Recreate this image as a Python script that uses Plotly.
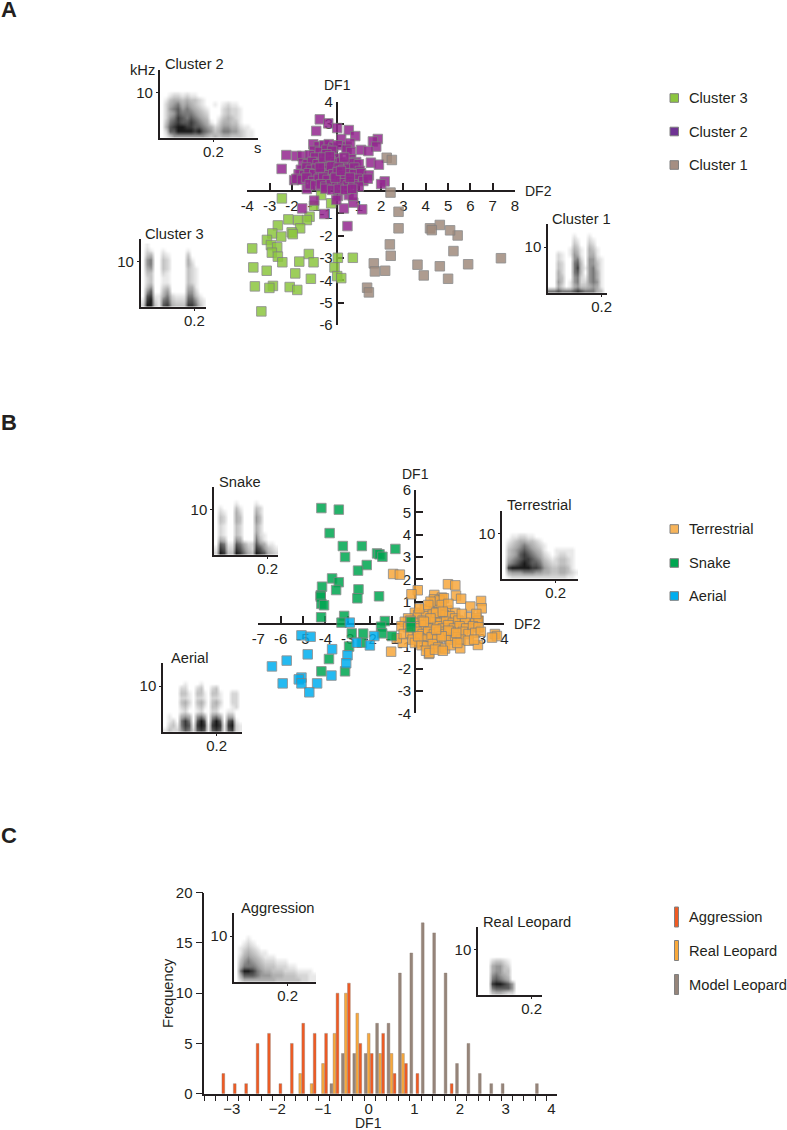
import plotly.graph_objects as go

WIDTH = 787
HEIGHT = 1130
FONT = "Liberation Sans"
INK = "#231f20"
EDGE = "#808080"

# panel A, (DF2, DF1)
CLUSTER3 = [(-2.45,-0.33),(-0.69,-0.18),(-1.01,-0.66),(-0.24,-0.55),(-1.21,-1.15),(-1.33,-1.30),(-1.72,-1.30),
            (-2.16,-1.27),(-2.63,-1.54),(-1.63,-1.67),(-2.01,-1.85),(-1.96,-1.93),(-2.88,-1.90),(-2.48,-2.04),
            (-3.12,-2.19),(-2.94,-2.42),(-2.66,-2.52),(-2.90,-2.76),(-2.63,-2.94),(-2.43,-3.19),(-3.78,-2.57),
            (-3.73,-3.42),(-3.13,-3.57),(-1.67,-3.16),(-1.24,-2.82),(-1.03,-3.19),(-1.85,-3.69),(-1.15,-3.93),
            (-2.85,-4.25),(-3.01,-4.34),(-3.66,-4.27),(-2.10,-4.30),(-1.76,-4.43),(-3.37,-5.39),(0.06,-2.99),
            (-0.09,-3.42),(0.03,-3.81),(0.21,-3.90),(0.73,-2.99)]
CLUSTER1 = [(2.25,1.49),(2.48,1.39),(2.42,-0.07),(2.78,-0.93),(2.78,-1.67),(2.39,-2.39),(2.43,-2.90),(1.67,-3.24),
            (1.72,-3.60),(2.18,-3.57),(1.37,-4.33),(1.45,-4.54),(3.63,-3.30),(3.91,-3.78),(4.63,-3.37),(5.0,-3.93),
            (5.90,-3.28),(7.37,-3.01),(5.24,-2.69),(5.43,-1.99),(5.09,-1.76),(4.63,-1.52),(4.19,-1.67),(4.27,-1.75)]
CLUSTER2 = [(-0.75,3.21),(-0.37,3.03),(0.03,2.82),(-0.91,2.69),(0.55,2.73),(0.84,2.46),(0.21,2.33),(-1.04,2.09),
            (0.46,1.99),(0.61,2.13),(1.85,2.33),(1.63,2.22),(1.78,1.99),(1.10,1.84),(1.43,1.79),(-2.25,1.61),
            (-2.46,0.99),(1.54,1.27),(1.90,1.18),(-1.90,0.49),(-1.33,0.09),(2.16,0.43),(2.0,0.31),(-1.0,-0.43),
            (-0.55,-1.03),(-1.54,-0.78),(0.33,-0.78),(1.15,-0.82),(0.75,-0.52),(0.49,-1.57),(0.07,-0.22),
            (-0.01,-0.40),(0.55,-0.18),(0.73,-0.22),
            (-0.8,2.0),(-0.55,2.05),(-0.35,2.1),(-0.15,1.95),(0.05,2.05),(-1.0,1.8),(-0.75,1.75),(-0.45,1.85),
            (-0.2,1.8),(0.45,1.85),(0.65,1.75),(-1.8,1.57),(-1.54,1.57),(-1.2,1.6),(-0.95,1.5),(-0.45,1.65),
            (0.05,1.46),(0.65,1.42),(0.88,1.3),(-1.5,1.25),(-1.3,1.2),(-1.1,1.3),(-0.85,1.2),(-0.55,1.3),
            (-0.3,1.35),(-0.05,1.25),(0.2,1.3),(0.45,1.2),(0.7,1.25),(1.0,1.2),(-1.6,0.95),(-1.35,1.05),
            (-1.15,0.95),(-0.9,1.0),(-0.6,1.05),(-0.4,0.95),(-0.25,1.1),(0.1,1.05),(0.3,0.95),(0.55,1.0),
            (0.8,1.05),(1.05,0.9),(-1.7,0.75),(-1.45,0.7),(-1.25,0.8),(-1.0,0.75),(-0.7,0.8),(-0.45,0.7),
            (-0.15,0.75),(0.05,0.85),(0.3,0.7),(0.55,0.8),(0.8,0.75),(1.1,0.8),(1.45,0.7),(-1.8,0.55),
            (-1.55,0.5),(-1.35,0.6),(-1.05,0.45),(-0.8,0.55),(-0.6,0.6),(-0.4,0.5),(-0.1,0.55),(0.15,0.5),
            (0.4,0.6),(0.65,0.45),(0.95,0.55),(1.2,0.45),(1.4,0.55),(-1.2,0.3),(-0.95,0.25),(-0.7,0.3),
            (-0.5,0.2),(-0.25,0.3),(0.0,0.25),(0.25,0.35),(0.5,0.25),(0.75,0.3),(1.0,0.2),(-0.5,0.1),
            (-0.2,0.05),(0.1,0.1),(0.4,0.05),(0.7,0.1),(-0.6,1.5),(-0.3,1.55),(0.35,1.5),(-0.05,0.6),(-0.75,1.05),
            (0.2,0.9),(0.6,0.6)]

# panel B, (DF2, DF1)
TERRESTRIAL = [(-0.97,2.24),(-0.67,2.21),(0.13,1.51),(-0.15,1.33),(1.48,1.78),(1.81,1.73),(1.84,1.27),(2.07,1.13),
               (0.87,1.30),(1.21,1.18),(2.48,0.78),(2.96,1.03),(2.99,0.70),(-1.06,-1.24),(3.58,-0.45),(3.67,-0.54),
               (3.45,-0.61),(2.82,-0.94),(2.03,-1.09),(0.63,-1.34),(-0.54,-0.84),(-0.81,-0.64),
               (0.0,0.5),(0.45,0.65),(0.85,0.7),(1.1,0.75),(1.45,0.6),(1.8,0.5),(-0.3,0.25),(0.15,0.4),(0.5,0.35),
               (0.8,0.45),(1.05,0.3),(1.3,0.4),(1.55,0.35),(1.8,0.25),(2.45,0.3),(2.75,0.25),(-0.45,0.1),(-0.2,0.15),
               (0.05,0.05),(0.35,0.15),(0.6,0.05),(0.9,0.15),(1.15,0.05),(1.4,0.1),(1.7,0.05),(1.95,0.15),(2.25,0.05),
               (2.7,0.05),(2.85,0.15),(-0.6,-0.1),(-0.3,-0.15),(0.0,-0.1),(0.2,-0.2),(0.45,-0.05),(0.7,-0.2),(1.0,-0.1),
               (1.25,-0.2),(1.5,-0.05),(1.75,-0.2),(2.0,-0.1),(2.3,-0.2),(2.6,-0.1),(2.85,-0.15),(-0.5,-0.45),(-0.2,-0.4),
               (0.1,-0.35),(0.35,-0.45),(0.6,-0.35),(0.85,-0.45),(1.1,-0.35),(1.35,-0.45),(1.6,-0.35),(1.9,-0.45),
               (2.15,-0.35),(2.4,-0.45),(2.7,-0.4),(2.95,-0.35),(-0.1,-0.7),(0.25,-0.65),(0.5,-0.7),(0.75,-0.6),(1.0,-0.7),
               (1.3,-0.6),(1.55,-0.7),(1.8,-0.6),(2.05,-0.7),(2.4,-0.75),(2.65,-0.7),(0.0,-0.85),(0.3,-0.95),(0.55,-1.0),
               (0.8,-0.9),(1.05,-1.05),(1.35,-1.1),(1.6,-0.95),(1.9,-0.85),(0.5,-1.2),(0.65,-1.3),(0.9,-1.15),(1.25,-1.2),
               (0.85,1.1),(0.9,0.95),(1.1,1.05),(1.3,1.15),(0.7,1.0),(1.2,0.85),(1.5,0.9),(0.2,0.7),(0.6,0.85),(2.1,0.45),
               (2.75,0.45),(0.95,0.5),(1.25,0.55),(0.7,0.25),(1.5,-0.3),(1.2,-0.55),(0.4,0.1),(1.85,-0.4),(0.95,-0.25),(0.15,-0.55)]
SNAKE = [(-4.18,5.19),(-3.40,5.12),(-3.81,4.07),(-3.22,3.49),(-2.37,3.49),(-3.12,3.0),(-1.69,3.16),(-1.58,3.12),
         (-1.45,3.01),(-0.87,3.36),(-2.15,2.64),(-2.54,2.39),(-3.70,2.04),(-3.40,1.87),(-4.15,1.67),(-3.52,1.52),
         (-2.52,1.55),(-2.57,1.15),(-1.60,1.24),(-4.21,1.28),(-4.21,1.22),(-4.18,0.90),(-4.06,0.84),(-4.19,0.30),
         (-3.16,0.36),(-3.28,0.06),(-1.34,0.13),(-1.51,-0.12),(-0.18,0.10),(-0.18,-0.15),(-2.82,-0.42),(-2.31,-0.43),
         (-1.46,-0.42),(-1.03,-0.54),(-2.37,-0.84),(-2.94,-1.01),(-3.84,-1.57),(-4.18,-2.12),(-3.12,-2.12)]
AERIAL = [(-2.91,0.06),(-5.07,-0.51),(-4.66,-0.57),(-2.60,-0.84),(-1.81,-0.54),(-2.01,-0.96),(-3.70,-1.13),(-4.79,-1.36),
          (-3.01,-1.40),(-3.07,-1.76),(-5.73,-1.64),(-6.39,-1.90),(-3.73,-2.31),(-5.07,-2.40),(-5.19,-2.48),(-5.07,-2.66),
          (-5.91,-2.66),(-4.37,-2.66),(-4.72,-3.06)]

# panel C
AGGRESSION_BINS = [-3.25,-3,-2.75,-2.5,-2.25,-2,-1.75,-1.5,-1.25,-1,-0.75,-0.5,-0.25,0,0.25,0.5,0.75,1,1.75]
AGGRESSION_FREQ = [2,1,1,5,6,1,5,7,6,6,10,11,5,4,6,2,3,2,1]
REAL_BINS = [-1.5,-1.25,-1,-0.75,-0.5,-0.25,0,0.25,0.5,0.75]
REAL_FREQ = [2,1,3,6,10,8,6,4,4,4]
MODEL_BINS = [-0.75,-0.5,-0.25,0,0.25,0.5,0.75,1,1.25,1.5,1.75,2,2.25,2.5,2.75,3,3.75]
MODEL_FREQ = [1,4,4,4,7,7,12,14,17,16,12,3,5,2,1,1,1]

# spectrogram insets: darkness 0-9, one string per kHz, 13 kHz row first
SPEC_CLUSTER2 = ["000000000000000000000000","000000000000000000000000","000000000000000000000000","000000000000000000000000",
                 "001221211000000000000000","013443433210000000000000","024564543210010121100000","025675654321000232210000",
                 "024576665432000232210000","025687676543001343210000","036787787654102443310000","047899887765423554421100",
                 "027799998976534665532110","013555555554343443332110"]
SPEC_CLUSTER3 = ["0100000000000000","0210010000010000","0340021000030000","0560032000041000","0560032000042000",
                 "0450032000032100","0330021000032100","0230011000032100","0230011000032100","0350023000044100",
                 "0570035000055200","0781146211166310","1892167322277521","2993178433388631"]
SPEC_CLUSTER1 = ["000000000000000","000000100010000","000000210021000","000000320032000","000001431043100",
                 "002101541044100","002100562055210","003200673055310","003200683156310","004200673056410",
                 "004300562156410","005301562256510","004201453345410","667666787666430"]
SPEC_SNAKE = ["0000000000000000","0000000000000000","0000010000100000","0100031000320000","0210042000420000",
              "0320043000530000","0320043000530000","0210032000420000","0210032000420000","0210032000521000",
              "0430054000631000","0761176422754110","1872287532875321","2983398643987432"]
SPEC_TERRESTRIAL = ["0000000000000000000","0000000000000000000","0000000000000000000","0000000000000000000",
                    "0011221100000000000","0123443321000000000","0234565432100000000","0345676543100111110",
                    "0345787654210122110","0456788765321233210","0567898776432233210","0899999887543344310",
                    "0455566655443344321","0122222222222222110"]
SPEC_AERIAL = ["00000000000000000000","00000000000000000000","00000000000000000000","00000100010000000000",
               "00002200230023000000","00003310331033100220","00002210221022100220","00003420342034200220",
               "00002310231033100120","00001200120022001100","01004540564056404400","01206860797079707810",
               "02316871898189818921","13225762787178717821"]
SPEC_AGGRESSION = ["00000000000000000000","00000000000000000000","00000000000000000000","00000000000000000000",
                   "00010000000000000000","00121000000000000000","01232100000000000000","01343211000000000000",
                   "02454321110000000000","03565432221110000000","04666543332221100000","06998654433322211110",
                   "04777655544433322211","02444444443333332211"]
SPEC_REAL = ["0000000000000000","0000000000000000","0000000000000000","0000000000000000","0000000000000000",
             "0000000000000000","0002332100000000","0004553200000000","0004553300000000","0005654300000000",
             "0006765400000000","0008998750000000","0006777750000000","0003443220000000"]


def px(x):
    return x / WIDTH


def py(y):
    return 1 - y / HEIGHT


fig = go.Figure()
layout = {}
annotations = []
shapes = []


def label(text, x, y, size=14.7, xanchor="left", angle=0, bold=False):
    # x is where the glyphs start; annotations sit about 2px inside their box
    x = x - 2 if xanchor == "left" else x
    annotations.append(dict(text=f"<b>{text}</b>" if bold else text, x=px(x), y=py(y), xref="paper", yref="paper",
                            showarrow=False, xanchor=xanchor, yanchor="middle", textangle=angle,
                            font=dict(family=FONT, size=size, color=INK)))


def cross_axes(idx, left, right, top, bottom, xr, yr):
    # two axes crossing at (0, 0) with ticks on the inner side
    xpos = left + (right - left) * (0 - xr[0]) / (xr[1] - xr[0])
    ypos = top + (bottom - top) * (yr[1] - 0) / (yr[1] - yr[0])
    xticks = list(range(xr[0], xr[1] + 1))
    yticks = list(range(yr[0], yr[1] + 1))
    common = dict(showgrid=False, zeroline=False, showline=True, linecolor=INK, linewidth=1.6, ticks="inside",
                  ticklen=7, tickwidth=1.5, tickcolor=INK, layer="below traces", anchor="free",
                  tickfont=dict(family=FONT, size=15, color=INK))
    layout[f"xaxis{idx}"] = dict(common, domain=[px(left), px(right)], range=xr, position=py(ypos), tickvals=xticks,
                                 ticktext=["" if t == 0 else str(t) for t in xticks], ticklabelstandoff=1)
    layout[f"yaxis{idx}"] = dict(common, domain=[py(bottom), py(top)], range=yr, position=px(xpos), tickvals=yticks,
                                 ticktext=["" if t == 0 else str(t) for t in yticks])


def squares(points, name, color, idx):
    fig.add_trace(go.Scatter(x=[p[0] for p in points], y=[p[1] for p in points], mode="markers", name=name,
                             xaxis=f"x{idx}", yaxis=f"y{idx}", showlegend=False, cliponaxis=False,
                             marker=dict(symbol="square", size=9.5, color=color, opacity=0.85,
                                         line=dict(color=EDGE, width=0.9))))


def inset(idx, title, rows, left, right, top, bottom, tx, ty):
    xmax = (right - left) / 268
    fig.add_trace(go.Heatmap(z=[[int(c) for c in row] for row in reversed(rows)], x0=xmax / len(rows[0]) / 2,
                             dx=xmax / len(rows[0]), y0=0.5, dy=1, zmin=0, zmax=9, zsmooth="best", showscale=False,
                             hoverinfo="skip", xaxis=f"x{idx}", yaxis=f"y{idx}",
                             colorscale=[[0, "rgba(0,0,0,0)"], [0.5, "rgba(20,20,20,0.38)"], [1, "rgba(0,0,0,0.9)"]]))
    common = dict(showgrid=False, zeroline=False, showline=True, linecolor=INK, linewidth=1.5, ticks="outside",
                  ticklen=2, tickwidth=1, tickcolor=INK, tickfont=dict(family=FONT, size=15, color=INK))
    layout[f"xaxis{idx}"] = dict(common, domain=[px(left), px(right)], range=[0, xmax], anchor=f"y{idx}",
                                 tickvals=[0.2], ticktext=["0.2"], ticklabelstandoff=-3)
    layout[f"yaxis{idx}"] = dict(common, domain=[py(bottom), py(top)], range=[0, 15], anchor=f"x{idx}",
                                 tickvals=[10], ticktext=["10"])
    label(title, tx, ty)


# panel A
cross_axes(1, 247.3, 515, 101.7, 325, [-4, 8], [-6, 4])
squares(CLUSTER3, "Cluster 3", "#8CC63F", 1)
squares(CLUSTER1, "Cluster 1", "#A08B7D", 1)
squares(CLUSTER2, "Cluster 2", "#93278F", 1)
label("DF1", 337, 85, size=14, xanchor="center")
label("DF2", 525, 191, size=14)

# panel B
cross_axes(2, 258.3, 504.3, 490, 713.3, [-7, 4], [-4, 6])
squares(TERRESTRIAL, "Terrestrial", "#F7A83D", 2)
squares(SNAKE, "Snake", "#00A651", 2)
squares(AERIAL, "Aerial", "#00AEEF", 2)
label("DF1", 415, 474, size=14, xanchor="center")
label("DF2", 514, 624, size=14)

# panel C
for bins, freq, name, color in [(MODEL_BINS, MODEL_FREQ, "Model Leopard", "#96857A"),
                                (REAL_BINS, REAL_FREQ, "Real Leopard", "#F9A93B"),
                                (AGGRESSION_BINS, AGGRESSION_FREQ, "Aggression", "#F15A22")]:
    fig.add_trace(go.Bar(x=bins, y=freq, name=name, xaxis="x3", yaxis="y3", showlegend=False,
                         marker=dict(color=color, line=dict(color="#8a7a70", width=0.4))))
layout["xaxis3"] = dict(domain=[px(204.3), px(557.3)], range=[-3.6, 4.13], anchor="y3", showgrid=False, zeroline=False,
                        showline=True, linecolor=INK, linewidth=1.6, tickvals=list(range(-3, 5)), ticks="",
                        tickfont=dict(family=FONT, size=15, color=INK),
                        minor=dict(tick0=-3.6, dtick=0.25, ticks="outside", ticklen=5, tickwidth=1.3, tickcolor=INK))
layout["yaxis3"] = dict(domain=[py(1093.7), py(892.7)], range=[0, 20], anchor="x3", showgrid=False, zeroline=False,
                        showline=True, linecolor=INK, linewidth=1.6, tickvals=[0, 5, 10, 15, 20], ticks="outside",
                        ticklen=7, tickwidth=1.3, tickcolor=INK, tickfont=dict(family=FONT, size=15, color=INK))
label("Frequency", 168, 993, xanchor="center", angle=-90)
label("DF1", 368, 1123, size=14, xanchor="center")

# insets
inset(4, "Cluster 2", SPEC_CLUSTER2, 159.7, 258, 70, 138, 165, 64)
inset(5, "Cluster 3", SPEC_CLUSTER3, 140.7, 206, 239, 307, 145, 234)
inset(6, "Cluster 1", SPEC_CLUSTER1, 548, 607, 224, 293, 552, 219)
inset(7, "Snake", SPEC_SNAKE, 214, 278, 487, 555, 219, 482)
inset(8, "Terrestrial", SPEC_TERRESTRIAL, 502, 578, 511, 579, 507, 505)
inset(9, "Aerial", SPEC_AERIAL, 163, 242, 663, 732, 171, 658)
inset(10, "Aggression", SPEC_AGGRESSION, 234, 316, 913, 982, 241, 908)
inset(11, "Real Leopard", SPEC_REAL, 478, 542, 927, 995, 483, 922)
label("kHz", 130, 70)
label("s", 254, 148)

# legends
for name, color, y in [("Cluster 3", "#8CC63F", 98), ("Cluster 2", "#6F3393", 131.5), ("Cluster 1", "#A58E82", 165),
                       ("Terrestrial", "#F7B45A", 529), ("Snake", "#00A651", 563), ("Aerial", "#00AEEF", 596)]:
    shapes.append(dict(type="rect", xref="paper", yref="paper", x0=px(670), x1=px(678.5), y0=py(y + 4.3), y1=py(y - 4.3),
                       fillcolor=color, line=dict(color=EDGE, width=1)))
    label(name, 688.5, y)
for name, color, y in [("Aggression", "#F15A22", 917), ("Real Leopard", "#F9A93B", 950.5), ("Model Leopard", "#96857A", 984.5)]:
    shapes.append(dict(type="rect", xref="paper", yref="paper", x0=px(674.5), x1=px(678.5), y0=py(y + 10), y1=py(y - 10),
                       fillcolor=color, line=dict(color=EDGE, width=1)))
    label(name, 688.5, y)

# panel letters
label("A", 1, 9, size=22, bold=True)
label("B", 1, 422, size=22, bold=True)
label("C", 1, 835, size=22, bold=True)

fig.update_layout(width=WIDTH, height=HEIGHT, autosize=False, margin=dict(l=0, r=0, t=0, b=0, autoexpand=False),
                  paper_bgcolor="white", plot_bgcolor="rgba(0,0,0,0)", barmode="group", bargap=0.2, bargroupgap=0.1,
                  showlegend=False, annotations=annotations, shapes=shapes, **layout)

fig.write_html("out.html", config={"displayModeBar": False}, post_script="document.body.style.margin = '0';")
